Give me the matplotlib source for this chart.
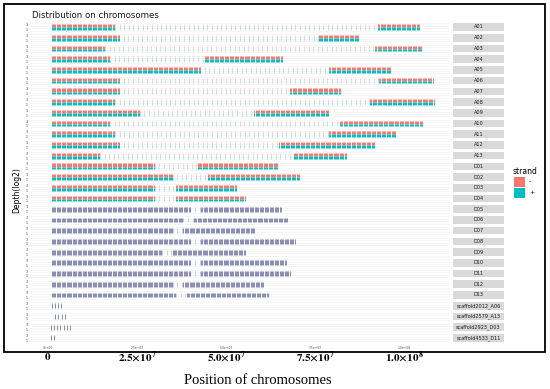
import matplotlib
matplotlib.use('Agg')
import matplotlib.pyplot as plt
from matplotlib.patches import Rectangle
import numpy as np

# ---------------- data ----------------
chromosomes = ['A01', 'A02', 'A03', 'A04', 'A05', 'A06', 'A07', 'A08', 'A09', 'A10',
               'A11', 'A12', 'A13', 'D01', 'D02', 'D03', 'D04', 'D05', 'D06', 'D07',
               'D08', 'D09', 'D10', 'D11', 'D12', 'D13',
               'scaffold2012_A06', 'scaffold2579_A13', 'scaffold2923_D03', 'scaffold4533_D11']
# first / last covered position (Mb)
chrom_start_mb = [1.0] * 26 + [1.0, 2.0, 0.8, 0.8]
chrom_end_mb = [104.5, 87.4, 105.1, 66.0, 96.3, 108.1, 82.0, 108.4, 78.7, 105.3,
                97.8, 91.9, 84.0, 64.6, 70.8, 53.1, 55.3, 65.4, 67.4, 58.1,
                69.4, 55.6, 66.9, 68.0, 60.7, 61.8,
                4.0, 5.0, 7.0, 2.5]
# end of the dense left arm and start of the dense right arm (Mb)
dense_left_end_mb = [18.8, 20.0, 16.0, 17.4, 42.7, 20.0, 20.0, 18.8, 25.8, 17.4,
                     18.8, 20.0, 14.6, 30.0, 35.0, 30.0, 30.0, 40.0, 38.0, 35.0,
                     40.0, 32.0, 40.0, 40.0, 35.0, 36.0,
                     1.0, 2.0, 0.8, 0.8]
dense_right_start_mb = [92.7, 76.0, 91.9, 44.0, 79.0, 93.0, 68.0, 90.5, 58.0, 82.0,
                        79.0, 65.0, 69.0, 42.0, 45.0, 36.0, 36.0, 43.0, 41.0, 38.0,
                        43.0, 35.0, 43.0, 43.0, 38.0, 39.0,
                        4.0, 5.0, 7.0, 2.5]
# rows where both strands sit on top of each other
overlap_rows = ['D05', 'D06', 'D07', 'D08', 'D09', 'D10', 'D11', 'D12', 'D13',
                'scaffold2012_A06', 'scaffold2579_A13', 'scaffold2923_D03', 'scaffold4533_D11']
strand_labels = ['-', '+']
strand_colors = ['#F8766D', '#00BFC4']
overlap_color = '#6c6fa4'
x_ticks = [0, 2.5e7, 5.0e7, 7.5e7, 1.0e8]
x_tick_labels = [r'$\mathbf{0}$', r'$\mathbf{2.5{\times}10^{7}}$', r'$\mathbf{5.0{\times}10^{7}}$',
                 r'$\mathbf{7.5{\times}10^{7}}$', r'$\mathbf{1.0{\times}10^{8}}$']
small_tick_labels = ['0e+00', '2.5e+07', '5.0e+07', '7.5e+07', '1.0e+08']
y_ticks = [1, 3]
y_tick_labels = ['1', '3']

# ---------------- layout helpers ----------------
plt.rcParams['mathtext.fontset'] = 'stix'
W, H = 550, 389
fig = plt.figure(figsize=(W / 100, H / 100), dpi=100)


def fx(px):
    return px / W


def fy(py):
    return 1 - py / H


# x mapping: 0 -> 48 px, 25e6 -> +89 px
x_left_px, x_right_px = 30, 450
px_per_unit = 89 / 25e6
xmin = (x_left_px - 48) / px_per_unit
xmax = (x_right_px - 48) / px_per_unit

row0, row_step, panel_h = 27.0, 10.72, 9.6

axes = []
for i, name in enumerate(chromosomes):
    yc = row0 + i * row_step
    ax = fig.add_axes([fx(x_left_px), fy(yc + panel_h / 2), (x_right_px - x_left_px) / W, panel_h / H])
    ax.set_xlim(xmin, xmax)
    ax.set_ylim(0, 4)
    for s in ax.spines.values():
        s.set_visible(False)
    ax.set_xticks([])
    ax.set_yticks(y_ticks)
    ax.set_yticklabels(y_tick_labels, fontsize=2.3, color='#333333')
    ax.tick_params(axis='y', length=0, pad=1.5)
    for yt in [0.5, 1.5, 2.5, 3.5]:
        ax.axhline(yt, color='#EFEFEF', lw=0.4, zorder=0)

    s0 = chrom_start_mb[i] * 1e6
    s1 = chrom_end_mb[i] * 1e6
    le = dense_left_end_mb[i] * 1e6
    rs = dense_right_start_mb[i] * 1e6
    if name.startswith('scaffold'):
        dense = np.arange(s0, s1, 0.9e6)
        sparse = np.array([])
    else:
        dense = np.concatenate([np.arange(s0, le, 0.35e6),
                                np.arange(rs, s1 + 1e3, 0.35e6)])
        sparse = np.arange(le, rs, 1.3e6)
    if name in overlap_rows:
        ax.vlines(dense, 1.0, 3.0, colors=overlap_color, lw=0.7, alpha=0.8)
        ax.vlines(sparse, 1.0, 3.0, colors=overlap_color, lw=0.5, alpha=0.45)
    else:
        ax.vlines(dense, 1.9, 3.2, colors=strand_colors[0], lw=0.7)
        ax.vlines(dense, 0.8, 1.9, colors=strand_colors[1], lw=0.7)
        ax.vlines(sparse, 1.9, 3.2, colors=strand_colors[0], lw=0.5, alpha=0.45)
        ax.vlines(sparse, 0.8, 1.9, colors=strand_colors[1], lw=0.5, alpha=0.45)
    axes.append(ax)

    # strip label
    fig.patches.append(Rectangle((fx(453), fy(yc + 3.8)), (504 - 453) / W, 7.6 / H,
                                 transform=fig.transFigure, facecolor='#D9D9D9',
                                 edgecolor='none'))
    fig.text(fx(478.5), fy(yc), name, fontsize=3.6, color='#1a1a1a',
             ha='center', va='center')

# x tick labels (small ggplot ones and large serif ones)
last = axes[-1]
for xv, sl, bl in zip(x_ticks, small_tick_labels, x_tick_labels):
    last.text(xv, -0.35, sl, transform=last.get_xaxis_transform(), fontsize=2.2,
              color='#4d4d4d', ha='center', va='top', clip_on=False)
    fig.text(fx(48 + xv * px_per_unit), fy(357), bl, fontsize=8, ha='center', va='center')

fig.text(fx(258), fy(380), 'Position of chromosomes', fontsize=10.5,
         family='Liberation Serif', ha='center', va='center')

# title and y label
fig.text(fx(32), fy(16), 'Distribution on chromosomes', fontsize=6.2, color='#1a1a1a',
         ha='left', va='center')
fig.text(fx(17), fy(190), 'Depth(log2)', fontsize=5.5, rotation=90, ha='center', va='center')

# legend
fig.text(fx(513), fy(172), 'strand', fontsize=5.5, ha='left', va='center')
for j, (lab, col) in enumerate(zip(strand_labels, strand_colors)):
    y0 = 177 + j * 11
    fig.patches.append(Rectangle((fx(514), fy(y0 + 10)), 11 / W, 10 / H,
                                 transform=fig.transFigure, facecolor=col, edgecolor='none'))
    fig.text(fx(529), fy(y0 + 5), lab, fontsize=4.5, ha='left', va='center')

# outer frame
fig.patches.append(Rectangle((fx(4), fy(352)), (545 - 4) / W, (352 - 4) / H,
                             transform=fig.transFigure, fill=False, edgecolor='black', lw=1.3))

fig.savefig('out.png', dpi=100)
